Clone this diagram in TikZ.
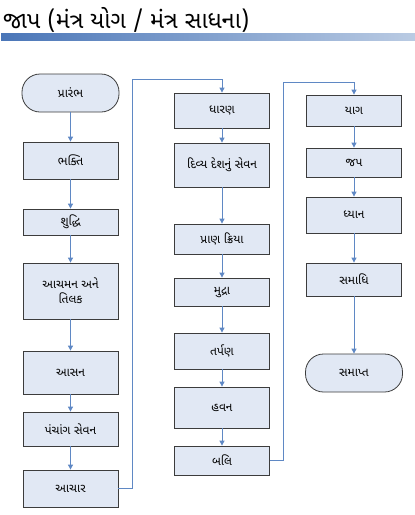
\documentclass[tikz,border=0pt]{standalone}
\usepackage{fontspec}
\newfontfamily\gujfont[Script=Gujarati]{Noto Sans Gujarati UI}
\usetikzlibrary{arrows.meta}
\definecolor{boxfill}{HTML}{E1E8F4}
\definecolor{boxline}{HTML}{3C3C3C}
\definecolor{conn}{HTML}{5F88C4}
\definecolor{barL}{HTML}{4A76B8}
\definecolor{barR}{HTML}{BACBE3}
\tikzset{
  x=1pt, y=-1pt,
  stepbox/.style={draw=boxline, line width=0.8pt, fill=boxfill, minimum width=95pt,
    inner sep=1pt, align=center, font=\gujfont\fontsize{12}{15}\selectfont},
  termbox/.style={stepbox, rounded corners=18pt, minimum width=97pt},
  flow/.style={draw=conn, line width=0.9pt, -{Triangle[length=5pt,width=5pt]}}
}
\begin{document}
\begin{tikzpicture}
\useasboundingbox (0,0) rectangle (415,515);
% title
\node[anchor=base west, inner sep=0pt, font=\gujfont\fontsize{23.5}{28}\selectfont] (title) at (3,28) {જાપ (મંત્ર યોગ / મંત્ર સાધના)};
\shade[left color=barL, right color=barR] (1,33) rectangle (415,40);
% column 1
\node[termbox, minimum height=38pt] (start) at (70.5,93) {પ્રારંભ};
\node[stepbox, minimum height=37pt] (bhakti) at (70.5,160.5) {ભક્તિ};
\node[stepbox, minimum height=26pt] (shuddhi) at (70.5,222) {શુદ્ધિ};
\node[stepbox, minimum height=56pt] (achaman) at (70.5,291) {આચમન અને\\તિલક};
\node[stepbox, minimum height=43pt] (asan) at (70.5,372.5) {આસન};
\node[stepbox, minimum height=34pt] (panchang) at (70.5,429) {પંચાંગ સેવન};
\node[stepbox, minimum height=37pt] (achar) at (70.5,488.5) {આચાર};
% column 2
\node[stepbox, minimum height=35pt] (dharan) at (222,110.5) {ધારણ};
\node[stepbox, minimum height=44pt] (divya) at (222,165) {દિવ્ય દેશનું સેવન};
\node[stepbox, minimum height=30pt] (pran) at (222,239) {પ્રાણ ક્રિયા};
\node[stepbox, minimum height=28pt] (mudra) at (222,292) {મુદ્રા};
\node[stepbox, minimum height=36pt] (tarpan) at (222,351) {તર્પણ};
\node[stepbox, minimum height=41pt] (havan) at (222,407.5) {હવન};
\node[stepbox, minimum height=29pt] (bali) at (222,460.5) {બલિ};
% column 3
\node[stepbox, minimum height=31pt] (yag) at (354,110.5) {યાગ};
\node[stepbox, minimum height=29pt] (jap) at (354,162.5) {જપ};
\node[stepbox, minimum height=36pt] (dhyan) at (354,215) {ધ્યાન};
\node[stepbox, minimum height=33pt] (samadhi) at (354,279.5) {સમાધિ};
\node[termbox, minimum height=38pt] (samapt) at (354,373) {સમાપ્ત};
% connectors column 1
\draw[flow] (start) -- (bhakti);
\draw[flow] (bhakti) -- (shuddhi);
\draw[flow] (shuddhi) -- (achaman);
\draw[flow] (achaman) -- (asan);
\draw[flow] (asan) -- (panchang);
\draw[flow] (panchang) -- (achar);
% link 1 -> 2
\coordinate (c1a) at (132,488.5);
\coordinate (c1b) at (132,79);
\coordinate (c1c) at (222,79);
\draw[flow] (achar.east) -- (c1a) -- (c1b) -- (c1c) -- (dharan.north);
% column 2
\draw[flow] (dharan) -- (divya);
\draw[flow] (divya) -- (pran);
\draw[flow] (pran) -- (mudra);
\draw[flow] (mudra) -- (tarpan);
\draw[flow] (tarpan) -- (havan);
\draw[flow] (havan) -- (bali);
% link 2 -> 3
\coordinate (c2a) at (283,460.5);
\coordinate (c2b) at (283,82);
\coordinate (c2c) at (354,82);
\draw[flow] (bali.east) -- (c2a) -- (c2b) -- (c2c) -- (yag.north);
% column 3
\draw[flow] (yag) -- (jap);
\draw[flow] (jap) -- (dhyan);
\draw[flow] (dhyan) -- (samadhi);
\draw[flow] (samadhi) -- (samapt);
\end{tikzpicture}
\end{document}
